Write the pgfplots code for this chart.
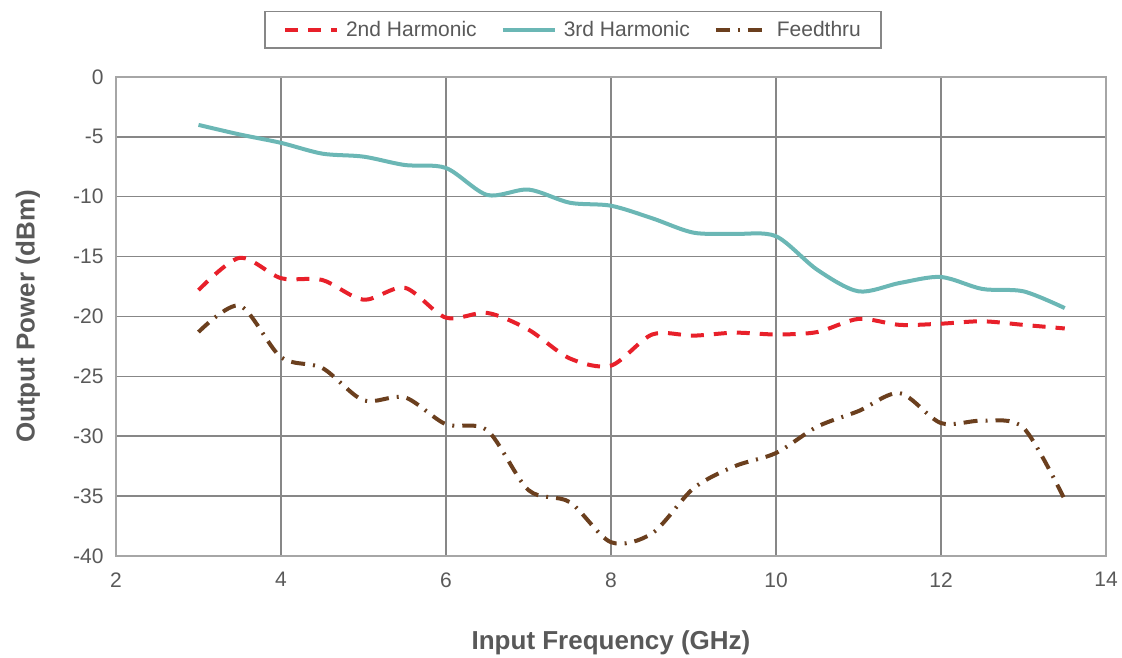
\documentclass[border=0pt]{standalone}
\usepackage{fontspec}
\setmainfont{Liberation Sans}
\usepackage{pgfplots}
\pgfplotsset{compat=1.18}

\definecolor{harm2}{HTML}{E8202A}
\definecolor{harm3}{HTML}{6BB7B5}
\definecolor{feed}{HTML}{6B3F1E}
\definecolor{txt}{HTML}{595959}
\definecolor{gridc}{HTML}{878787}
\definecolor{framec}{HTML}{A6A6A6}

\begin{document}
\begin{tikzpicture}
\begin{axis}[
    scale only axis,
    width=990pt, height=479pt,
    xmin=2, xmax=14, ymin=-40, ymax=0,
    xtick={2,4,...,14},
    ytick={-40,-35,...,0},
    grid=major,
    major grid style={draw=gridc, line width=1.5pt},
    axis line style={draw=framec, line width=2.5pt},
    major tick length=0pt,
    /pgf/number format/assume math mode=true,
    tick label style={font=\fontsize{21}{25}\selectfont, text=txt},
    xticklabel style={yshift=-13pt},
    yticklabel style={xshift=-9pt},
    xlabel={Input Frequency (GHz)},
    ylabel={Output Power (dBm)},
    label style={font=\fontsize{26}{30}\selectfont\bfseries, text=txt},
    xlabel style={at={(axis description cs:0.5,-0.181)}, anchor=center},
    ylabel style={at={(axis description cs:-0.0889,0.5)}, anchor=center},
    legend columns=3,
    legend style={at={(axis description cs:0.4616,1.0585)}, anchor=south,
        draw=gridc, line width=1.5pt, font=\fontsize{21}{25}\selectfont,
        text=txt, inner xsep=18pt, inner ysep=8pt,
        /tikz/every odd column/.append style={column sep=5pt},
        /tikz/every even column/.append style={column sep=22pt}},
    legend image code/.code={\draw[#1] (0pt,0pt) -- (52pt,0pt);},
]
\addplot[harm2, line width=4pt, dash pattern=on 13pt off 10pt, smooth, tension=0.5] coordinates {
(3,-17.8) (3.5,-15.1) (4,-16.8) (4.5,-16.95) (5,-18.6) (5.5,-17.6) (6,-20.1) (6.5,-19.7)
(7,-21.1) (7.5,-23.5) (8,-24.1) (8.5,-21.5) (9,-21.6) (9.5,-21.35) (10,-21.5) (10.5,-21.3)
(11,-20.2) (11.5,-20.7) (12,-20.6) (12.5,-20.4) (13,-20.7) (13.5,-21.0)};
\addplot[harm3, line width=4pt, smooth, tension=0.5] coordinates {
(3,-4.0) (3.5,-4.8) (4,-5.5) (4.5,-6.4) (5,-6.65) (5.5,-7.35) (6,-7.6) (6.5,-9.85)
(7,-9.4) (7.5,-10.5) (8,-10.75) (8.5,-11.8) (9,-13.0) (9.5,-13.1) (10,-13.3) (10.5,-16.1)
(11,-17.9) (11.5,-17.2) (12,-16.7) (12.5,-17.7) (13,-17.9) (13.5,-19.3)};
\addplot[feed, line width=4pt, dash pattern=on 14pt off 8pt on 2pt off 8pt, smooth, tension=0.5] coordinates {
(3,-21.3) (3.5,-19.1) (4,-23.4) (4.5,-24.3) (5,-27.0) (5.5,-26.75) (6,-29.0) (6.5,-29.5)
(7,-34.5) (7.5,-35.5) (8,-38.85) (8.5,-38.1) (9,-34.35) (9.5,-32.5) (10,-31.4) (10.5,-29.2)
(11,-27.9) (11.5,-26.4) (12,-28.9) (12.5,-28.7) (13,-29.3) (13.5,-35.3)};
\legend{2nd Harmonic,3rd Harmonic,Feedthru}
\end{axis}
\pgfresetboundingbox
\path (current axis.south west) ++(-116pt,-102pt) rectangle ([shift={(16pt,77pt)}]current axis.north east);
\end{tikzpicture}
\end{document}
